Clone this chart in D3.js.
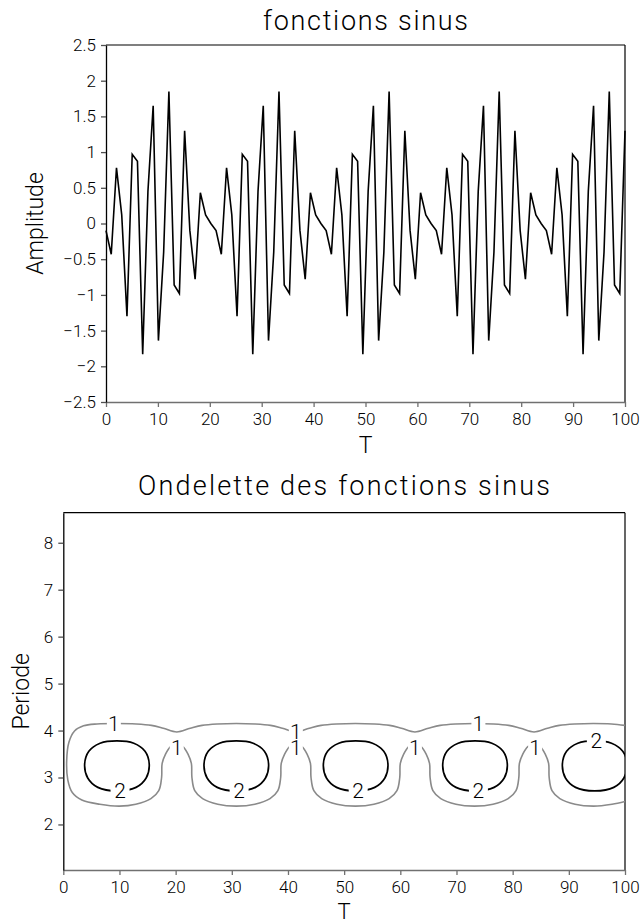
<!DOCTYPE html>
<html><head><meta charset="utf-8">
<script src="https://cdn.jsdelivr.net/npm/d3@7"></script>
<style>
html,body{margin:0;padding:0;background:#fff;}
svg{display:block;}
text{font-family:Roboto,"DejaVu Sans",sans-serif;font-weight:300;fill:#000;}
</style></head><body><svg id="c" width="642" height="924"></svg>
<script>
// ---------- DATA ----------
const sampleT = [0,1.01,2.02,3.03,4.04,5.05,6.06,7.07,8.08,9.09,10.10,11.11,12.12,13.13,14.14,15.15,16.16,17.17,18.18,19.19,
20.20,21.21,22.22,23.23,24.24,25.25,26.26,27.27,28.28,29.29,30.30,31.31,32.32,33.33,34.34,35.35,36.36,37.37,38.38,39.39,
40.40,41.41,42.42,43.43,44.44,45.45,46.46,47.47,48.48,49.49,50.51,51.52,52.53,53.54,54.55,55.56,56.57,57.58,58.59,59.60,
60.61,61.62,62.63,63.64,64.65,65.66,66.67,67.68,68.69,69.70,70.71,71.72,72.73,73.74,74.75,75.76,76.77,77.78,78.79,79.80,
80.81,81.82,82.83,83.84,84.85,85.86,86.87,87.88,88.89,89.90,90.91,91.92,92.93,93.94,94.95,95.96,96.97,97.98,98.99,100];
const amplitude = [
-0.10,-0.43,0.78,0.12,-1.30,0.97,0.87,-1.83,0.45,1.65,-1.64,-0.40,1.85,-0.86,-0.98,1.30,-0.10,-0.78,0.43,0.12,0.00,
-0.10,-0.43,0.78,0.12,-1.30,0.97,0.87,-1.83,0.45,1.65,-1.64,-0.40,1.85,-0.86,-0.98,1.30,-0.10,-0.78,0.43,0.12,0.00,
-0.10,-0.43,0.78,0.12,-1.30,0.97,0.87,-1.83,0.45,1.65,-1.64,-0.40,1.85,-0.86,-0.98,1.30,-0.10,-0.78,0.43,0.12,0.00,
-0.10,-0.43,0.78,0.12,-1.30,0.97,0.87,-1.83,0.45,1.65,-1.64,-0.40,1.85,-0.86,-0.98,1.30,-0.10,-0.78,0.43,0.12,0.00,
-0.10,-0.43,0.78,0.12,-1.30,0.97,0.87,-1.83,0.45,1.65,-1.64,-0.40,1.85,-0.86,-0.98,1.30];

const topXTicks = [0,10,20,30,40,50,60,70,80,90,100];
const topYTicks = [-2.5,-2,-1.5,-1,-0.5,0,0.5,1,1.5,2,2.5];
const botXTicks = [0,10,20,30,40,50,60,70,80,90,100];
const botYTicks = [2,3,4,5,6,7,8];

// contour level 1 (T, Periode), one open line
const contour1 = [
[100,4.11],[97.6,4.14],[94.4,4.15],[91.0,4.14],[88.3,4.11],[86.2,4.05],[83.8,3.97],[81.4,4.05],[79.3,4.11],[76.6,4.14],
[73.2,4.15],[69.8,4.14],[67.1,4.11],[65.0,4.05],[62.6,3.97],[60.2,4.05],[58.1,4.11],[55.4,4.14],[52.0,4.15],[48.6,4.14],
[45.9,4.11],[43.8,4.05],[41.4,3.97],[39.0,4.05],[36.9,4.11],[34.2,4.14],[30.8,4.15],[27.4,4.14],[24.7,4.11],[22.6,4.05],
[20.2,3.97],[17.8,4.05],[15.7,4.11],[13.0,4.14],[9.5,4.15],[6.0,4.14],[3.6,4.10],[2.0,3.99],[1.0,3.75],[0.6,3.35],
[0.8,2.95],[1.6,2.68],[3.3,2.52],[6.5,2.43],[10.0,2.39],[12.9,2.43],
[15.6,2.55],[17.0,2.72],[17.5,3.0],[17.6,3.30],[18.2,3.50],[19.1,3.66],[20.2,3.72],[21.3,3.66],[22.2,3.50],[22.8,3.30],[22.9,3.0],[23.4,2.72],[24.8,2.55],
[27.5,2.43],[30.8,2.39],[34.1,2.43],
[36.8,2.55],[38.2,2.72],[38.7,3.0],[38.8,3.30],[39.4,3.50],[40.3,3.66],[41.4,3.72],[42.5,3.66],[43.4,3.50],[44.0,3.30],[44.1,3.0],[44.6,2.72],[46.0,2.55],
[48.7,2.43],[52.0,2.39],[55.3,2.43],
[58.0,2.55],[59.4,2.72],[59.9,3.0],[60.0,3.30],[60.6,3.50],[61.5,3.66],[62.6,3.72],[63.7,3.66],[64.6,3.50],[65.2,3.30],[65.3,3.0],[65.8,2.72],[67.2,2.55],
[69.9,2.43],[73.2,2.39],[76.5,2.43],
[79.2,2.55],[80.6,2.72],[81.1,3.0],[81.2,3.30],[81.8,3.50],[82.7,3.66],[83.8,3.72],[84.9,3.66],[85.8,3.50],[86.4,3.30],[86.5,3.0],[87.0,2.72],[88.4,2.55],
[91.1,2.43],[94.4,2.39],[97.7,2.43],[100,2.49]];

// contour level 2: closed loops (center T) and their shape (T offset, Periode)
const contour2Centers = [9.55, 30.8, 52.05, 73.3, 94.6];
const contour2Shape = [[0,3.78],[-3.0,3.73],[-5.0,3.56],[-5.75,3.28],[-5.2,2.99],[-3.4,2.79],[0,2.715],
  [3.4,2.79],[5.2,2.99],[5.75,3.28],[5.0,3.56],[3.0,3.73]];

const labels1 = [[9.0,4.15],[20.2,3.65],[41.4,3.99],[41.4,3.63],[62.6,3.65],[73.9,4.15],[84.0,3.65]];
const labels2 = [[10.1,2.73],[31.3,2.73],[52.5,2.73],[73.9,2.73],[94.9,3.79]];

// ---------- DRAW ----------
const svg = d3.select("#c");
const topX = d3.scaleLinear().domain([0,100]).range([106,625]);
const topY = d3.scaleLinear().domain([-2.5,2.5]).range([402,45]);
const botX = d3.scaleLinear().domain([0,100]).range([63.3,625]);
const botY = d3.scaleLinear().domain([1.03,8.64]).range([870,512.7]);

function frame(x, y, xt, yt, fmtY){
  const g = svg.append("g");
  const [x0,x1] = x.range(), [y0,y1] = y.range();
  g.append("line").attr("x1",x0).attr("x2",x1).attr("y1",y1).attr("y2",y1).attr("stroke","#000").attr("stroke-width",1.2);
  g.append("line").attr("x1",x1).attr("x2",x1).attr("y1",y1).attr("y2",y0).attr("stroke","#000").attr("stroke-width",1.2);
  const xa = g.append("g").attr("transform",`translate(0,${y0})`)
    .call(d3.axisBottom(x).tickValues(xt).tickSize(5).tickSizeOuter(0).tickPadding(6).tickFormat(d3.format("d")));
  xa.select(".domain").attr("stroke","#707070").attr("stroke-width",1.6);
  xa.selectAll(".tick line").attr("stroke","#707070").attr("stroke-width",1.3);
  xa.selectAll("text").style("font-size","17px");
  const ya = g.append("g").attr("transform",`translate(${x0},0)`)
    .call(d3.axisLeft(y).tickValues(yt).tickSize(5).tickSizeOuter(0).tickPadding(5).tickFormat(fmtY));
  ya.select(".domain").attr("stroke","#000").attr("stroke-width",1.3);
  ya.selectAll(".tick line").attr("stroke","#505050").attr("stroke-width",1.3);
  ya.selectAll("text").style("font-size","17px");
  return g;
}

// ----- top chart -----
frame(topX, topY, topXTicks, topYTicks, d3.format(""));
svg.append("path")
  .datum(sampleT.map((t,i)=>[t, amplitude[i]]))
  .attr("fill","none").attr("stroke","#000").attr("stroke-width",1.6).attr("stroke-linejoin","miter")
  .attr("d", d3.line().x(d=>topX(d[0])).y(d=>topY(d[1])));

svg.append("text").attr("x",365.5).attr("y",29.5).attr("text-anchor","middle")
  .attr("textLength",205).attr("lengthAdjust","spacing").style("font-size","27px").text("fonctions sinus");
svg.append("text").attr("x",365.5).attr("y",453).attr("text-anchor","middle").style("font-size","23px").text("T");
svg.append("text").attr("transform","translate(43,223.5) rotate(-90)").attr("text-anchor","middle").style("font-size","23px").text("Amplitude");

// ----- bottom chart -----
frame(botX, botY, botXTicks, botYTicks, d3.format("d"));
svg.append("defs").append("clipPath").attr("id","clipB").append("rect")
  .attr("x",botX(0)).attr("y",botY(8.64)).attr("width",botX(100)-botX(0)).attr("height",botY(1.03)-botY(8.64));
const cg = svg.append("g").attr("clip-path","url(#clipB)");
cg.append("path").datum(contour1)
  .attr("fill","none").attr("stroke","#8a8a8a").attr("stroke-width",1.6)
  .attr("d", d3.line().x(d=>botX(d[0])).y(d=>botY(d[1])).curve(d3.curveCatmullRom.alpha(0.5)));
cg.selectAll("path.loop").data(contour2Centers).join("path").attr("class","loop")
  .attr("fill","none").attr("stroke","#000").attr("stroke-width",1.7)
  .attr("d", c => d3.line().x(d=>botX(c+d[0])).y(d=>botY(d[1])).curve(d3.curveCatmullRomClosed.alpha(0.5))(contour2Shape));

function clabels(list, txt, w){
  const g = svg.append("g");
  list.forEach(([t,p])=>{
    g.append("rect").attr("x",botX(t)-w/2).attr("y",botY(p)-8).attr("width",w).attr("height",16).attr("fill","#fff");
  });
  list.forEach(([t,p])=>{
    g.append("text").attr("x",botX(t)).attr("y",botY(p)).attr("dy","0.36em").attr("text-anchor","middle")
      .style("font-size","21px").text(txt);
  });
}
clabels(labels1, "1", 14);
clabels(labels2, "2", 19);

svg.append("text").attr("x",344).attr("y",495).attr("text-anchor","middle")
  .attr("textLength",412).attr("lengthAdjust","spacing").style("font-size","27px").text("Ondelette des fonctions sinus");
svg.append("text").attr("x",344).attr("y",919).attr("text-anchor","middle").style("font-size","22px").text("T");
svg.append("text").attr("transform","translate(28.5,691.4) rotate(-90)").attr("text-anchor","middle").style("font-size","23px").text("Periode");
</script></body></html>
